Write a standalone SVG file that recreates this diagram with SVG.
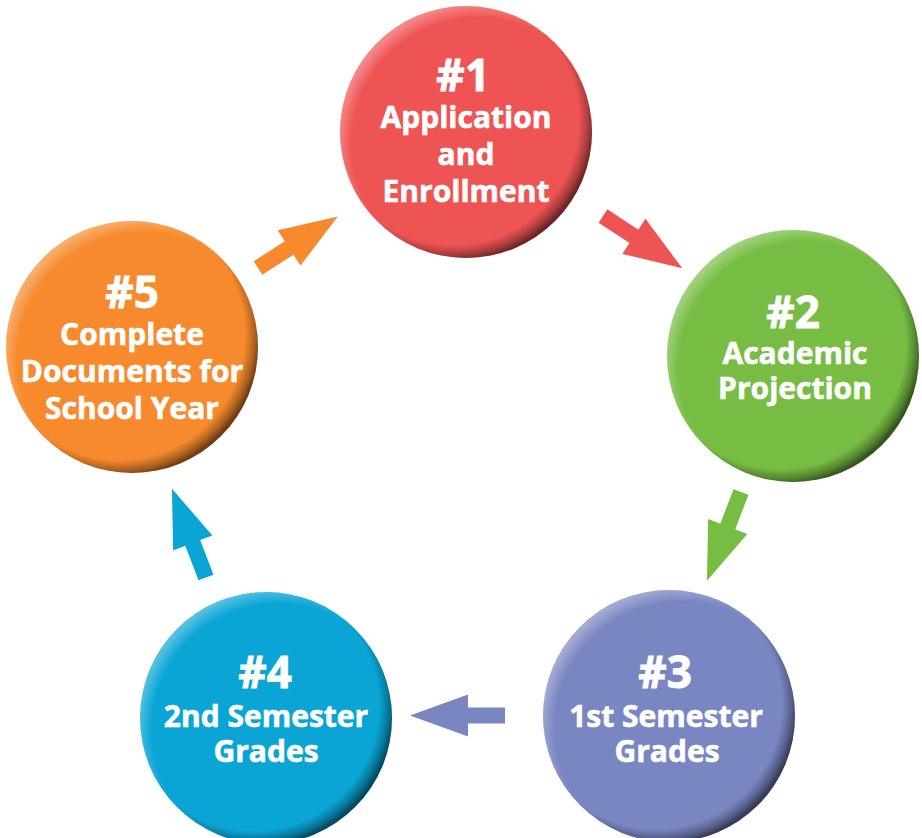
<svg xmlns="http://www.w3.org/2000/svg" xmlns:xlink="http://www.w3.org/1999/xlink" width="922" height="838" viewBox="0 0 922 838">
  <defs>
    <!-- darker rim toward the lower right of each disc -->
    <radialGradient id="rimShade" cx="0.45" cy="0.45" r="0.56">
      <stop offset="0.89" stop-color="#000" stop-opacity="0"/>
      <stop offset="0.96" stop-color="#000" stop-opacity="0.3"/>
      <stop offset="1" stop-color="#000" stop-opacity="0.55"/>
    </radialGradient>
    <!-- soft light rim toward the upper left -->
    <radialGradient id="rimLight" cx="0.55" cy="0.55" r="0.56">
      <stop offset="0.9" stop-color="#fff" stop-opacity="0"/>
      <stop offset="1" stop-color="#fff" stop-opacity="0.3"/>
    </radialGradient>
    <!-- block arrow pointing along +x, tail at origin -->
    <polygon id="blockArrow" points="0,-8 37,-8 37,-21 95,0 37,21 37,8 0,8"/>
  </defs>
  <style>
    .shade { fill: url(#rimShade); }
    .light { fill: url(#rimLight); }
    .num { font-family: "Open Sans", "Liberation Sans", sans-serif; font-weight: 700; font-size: 44px; fill: #fff; stroke: #fff; stroke-width: 0.9px; text-anchor: middle; }
    .lbl { font-family: "Open Sans", "Liberation Sans", sans-serif; font-weight: 700; font-size: 30px; fill: #fff; stroke: #fff; stroke-width: 0.6px; text-anchor: middle; }
  </style>

  <rect width="922" height="838" fill="#fff"/>

  <g id="connectors">
    <use xlink:href="#blockArrow" href="#blockArrow" fill="#ef5454" transform="translate(603,216) rotate(33.4)"/>
    <use xlink:href="#blockArrow" href="#blockArrow" fill="#77bd43" transform="translate(741,492) rotate(111)"/>
    <use xlink:href="#blockArrow" href="#blockArrow" fill="#7a86c2" transform="translate(505,715.5) rotate(180)"/>
    <use xlink:href="#blockArrow" href="#blockArrow" fill="#0aa5d5" transform="translate(206,577.5) rotate(-111)"/>
    <use xlink:href="#blockArrow" href="#blockArrow" fill="#f68a2c" transform="translate(258,268) rotate(-32.8)"/>
  </g>

  <g id="step1">
    <circle cx="466" cy="132" r="126" fill="#ef5454"/>
    <circle cx="466" cy="132" r="126" class="shade"/>
    <circle cx="466" cy="132" r="126" class="light"/>
    <text class="num" x="463" y="91">#1</text>
    <text class="lbl" x="466" y="128">Application</text>
    <text class="lbl" x="466" y="165">and</text>
    <text class="lbl" x="466" y="202">Enrollment</text>
  </g>

  <g id="step2">
    <circle cx="793" cy="356" r="126" fill="#77bd43"/>
    <circle cx="793" cy="356" r="126" class="shade"/>
    <circle cx="793" cy="356" r="126" class="light"/>
    <text class="num" x="793" y="328">#2</text>
    <text class="lbl" x="795" y="364">Academic</text>
    <text class="lbl" x="795" y="399">Projection</text>
  </g>

  <g id="step3">
    <circle cx="669" cy="716" r="126" fill="#7a86c2"/>
    <circle cx="669" cy="716" r="126" class="shade"/>
    <circle cx="669" cy="716" r="126" class="light"/>
    <text class="num" x="665" y="688">#3</text>
    <text class="lbl" x="666" y="727">1st Semester</text>
    <text class="lbl" x="667" y="762">Grades</text>
  </g>

  <g id="step4">
    <circle cx="266" cy="718" r="126" fill="#0aa5d5"/>
    <circle cx="266" cy="718" r="126" class="shade"/>
    <circle cx="266" cy="718" r="126" class="light"/>
    <text class="num" x="265" y="688">#4</text>
    <text class="lbl" x="266" y="727">2nd Semester</text>
    <text class="lbl" x="266" y="762">Grades</text>
  </g>

  <g id="step5">
    <circle cx="132" cy="347" r="126" fill="#f68a2c"/>
    <circle cx="132" cy="347" r="126" class="shade"/>
    <circle cx="132" cy="347" r="126" class="light"/>
    <text class="num" x="132" y="308">#5</text>
    <text class="lbl" x="132" y="345">Complete</text>
    <text class="lbl" x="132" y="382">Documents for</text>
    <text class="lbl" x="132" y="419">School Year</text>
  </g>
</svg>
